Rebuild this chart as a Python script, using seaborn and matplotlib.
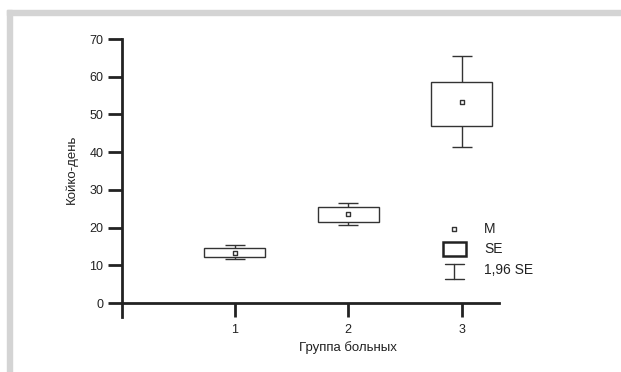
import numpy as np
import pandas as pd
import matplotlib
matplotlib.use("Agg")
import matplotlib.pyplot as plt
from matplotlib.patches import Rectangle
import seaborn as sns

# values
groups = [1, 2, 3]
means = [13.3, 23.6, 53.2]
se_low = [12.1, 21.6, 46.9]
se_high = [14.7, 25.4, 58.7]
ci_low = [11.6, 20.7, 41.3]
ci_high = [15.4, 26.6, 65.5]
y_ticks = [0, 10, 20, 30, 40, 50, 60, 70]

df = pd.DataFrame({"group": groups, "mean": means,
                   "se_low": se_low, "se_high": se_high,
                   "ci_low": ci_low, "ci_high": ci_high})

sns.set_style("ticks")
plt.rcParams["font.family"] = ["Liberation Sans", "DejaVu Sans"]

ink = "#222222"
box_ink = "#333333"

fig = plt.figure(figsize=(6.21, 3.72), dpi=100)
ax = fig.add_axes([121.5 / 621, 55 / 372, 377.5 / 621, 278 / 372])

# 1,96 SE whiskers
ax.errorbar(df["group"], df["mean"],
            yerr=[df["mean"] - df["ci_low"], df["ci_high"] - df["mean"]],
            fmt="none", ecolor=box_ink, elinewidth=1, capsize=7,
            capthick=1, zorder=1)
# SE boxes
ax.bar(df["group"], df["se_high"] - df["se_low"], bottom=df["se_low"],
       width=0.54, color="white", edgecolor=box_ink, linewidth=1, zorder=2)
# means
sns.scatterplot(data=df, x="group", y="mean", marker="s", s=11,
                color="white", edgecolor=box_ink, linewidth=1,
                zorder=3, ax=ax, legend=False)

# legend drawn by hand
ax.scatter([2.93], [19.6], marker="s", s=11, color="white",
           edgecolors=box_ink, linewidths=1, zorder=3, clip_on=False)
ax.add_patch(Rectangle((2.835, 12.5), 0.2, 3.7, facecolor="white",
                       edgecolor=ink, linewidth=1.8, clip_on=False))
ax.plot([2.93, 2.93], [6.4, 10.3], color=box_ink, lw=1, clip_on=False)
ax.plot([2.85, 3.02], [10.3, 10.3], color=box_ink, lw=1, clip_on=False)
ax.plot([2.85, 3.02], [6.4, 6.4], color=box_ink, lw=1, clip_on=False)
ax.text(3.2, 19.6, "M", fontsize=10, color=ink, va="center")
ax.text(3.2, 14.3, "SE", fontsize=10, color=ink, va="center")
ax.text(3.2, 8.7, "1,96 SE", fontsize=10, color=ink, va="center")

ax.set_xlim(0, 3.33)
ax.set_ylim(-3.7, 70)
ax.set_xticks(groups)
ax.set_yticks(y_ticks)
ax.spines["top"].set_visible(False)
ax.spines["right"].set_visible(False)
ax.spines["bottom"].set_position(("data", 0))
for s in ["left", "bottom"]:
    ax.spines[s].set_linewidth(2)
    ax.spines[s].set_color(ink)
ax.spines["left"].set_bounds(-3.7, 70)
ax.tick_params(axis="both", length=10, width=2, color=ink,
               labelsize=9, labelcolor=ink)
ax.tick_params(axis="y", pad=3)
ax.tick_params(axis="x", pad=5)

ax.set_xlabel("Группа больных", fontsize=9.5, color=ink)
ax.set_ylabel("Койко-день", fontsize=9.5, color=ink)
ax.xaxis.set_label_coords((348 - 121.5) / 377.5, -0.085)
ax.yaxis.set_label_coords(-0.115, 0.53)

# grey frame around the figure
fig.patches.append(Rectangle((7 / 621, 357 / 372), 614 / 621, 5 / 372,
                             transform=fig.transFigure, color="#d4d4d4",
                             zorder=0))
fig.patches.append(Rectangle((7 / 621, 0), 5 / 621, 362 / 372,
                             transform=fig.transFigure, color="#d4d4d4",
                             zorder=0))

fig.savefig("out.png", dpi=100)
